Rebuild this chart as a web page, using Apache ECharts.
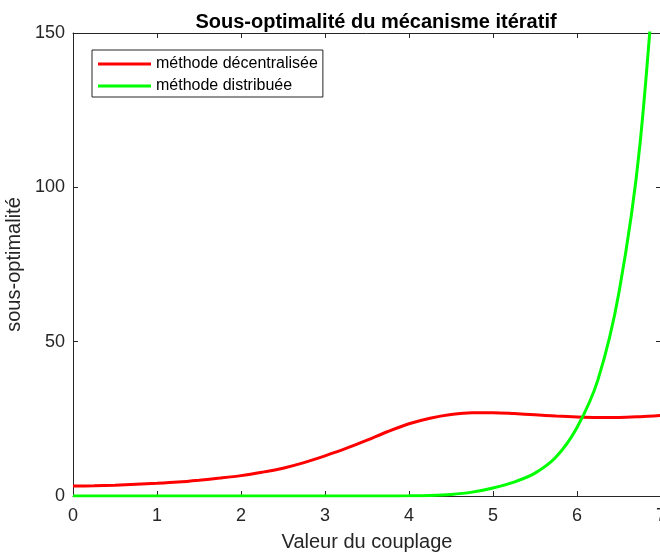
<!DOCTYPE html>
<html>
<head>
<meta charset="utf-8">
<script src="https://cdn.jsdelivr.net/npm/echarts@6/dist/echarts.min.js"></script>
<style>html,body{margin:0;padding:0;background:#fff;}#c{width:660px;height:552px;}</style>
</head>
<body>
<div id="c"></div>
<script>
var xValues = [0, 0.25, 0.5, 0.75, 1, 1.25, 1.5, 1.75, 2, 2.25, 2.5, 2.75, 3, 3.25, 3.5, 3.75, 4, 4.25, 4.5, 4.75, 5, 5.25, 5.5, 5.75, 6, 6.25, 6.5, 6.75, 7];
var redY = [3.2, 3.3, 3.5, 3.8, 4.1, 4.5, 5.1, 5.8, 6.6, 7.7, 9.0, 10.8, 13.0, 15.4, 18.1, 20.9, 23.4, 25.2, 26.4, 27.0, 27.0, 26.7, 26.3, 25.9, 25.6, 25.45, 25.45, 25.7, 26.1];
var greenY = [0, 0, 0, 0, 0, 0, 0, 0, 0, 0, 0, 0, 0, 0, 0, 0.01, 0.05, 0.17, 0.5, 1.25, 2.6, 4.5, 7.4, 12.6, 22.2, 37.7, 66, 114, 200];
var xTicks = [0, 1, 2, 3, 4, 5, 6, 7];
var yTicks = [0, 50, 100, 150];
var names = ['méthode décentralisée', 'méthode distribuée'];

function pairs(xs, ys) { return xs.map(function (x, i) { return [x, ys[i]]; }); }

var axisCol = '#262626';
var font = 'Liberation Sans, Arial, Helvetica, sans-serif';
function axisBase() {
  return {
    axisLine: { show: true, onZero: false, lineStyle: { color: axisCol, width: 1 } },
    axisTick: { show: true, inside: true, length: 5, lineStyle: { color: axisCol } },
    splitLine: { show: false }
  };
}
var chart = echarts.init(document.getElementById('c'));
chart.setOption({
  animation: false,
  title: {
    text: 'Sous-optimalité du mécanisme itératif',
    left: 371, top: 7, textAlign: 'center',
    textStyle: { fontFamily: font, fontSize: 20, fontWeight: 'bold', color: '#000' }
  },
  legend: {
    orient: 'vertical', left: 92, top: 50,
    padding: [5, 5, 2, 6],
    itemGap: 4, itemWidth: 53, itemHeight: 3,
    borderColor: axisCol, borderWidth: 1, backgroundColor: '#fff',
    icon: 'rect',
    textStyle: { fontFamily: font, fontSize: 16, color: '#000', lineHeight: 18 },
    data: names
  },
  grid: { left: 73, right: -1, top: 33, bottom: 56, containLabel: false, outerBoundsMode: 'none' },
  xAxis: [Object.assign(axisBase(), {
    type: 'value', min: 0, max: 7, interval: 1,
    name: 'Valeur du couplage', nameLocation: 'middle', nameGap: 36,
    nameTextStyle: { fontFamily: font, fontSize: 20, color: axisCol },
    axisLabel: { fontFamily: font, fontSize: 18, color: axisCol, margin: 11,
      formatter: function (v) { return xTicks.indexOf(v) >= 0 ? String(v) : ''; } }
  }), Object.assign(axisBase(), {
    type: 'value', min: 0, max: 7, interval: 1, position: 'top',
    axisLabel: { show: false }
  })],
  yAxis: [Object.assign(axisBase(), {
    type: 'value', min: 0, max: 150, interval: 50,
    name: 'sous-optimalité', nameLocation: 'middle', nameGap: 46, nameRotate: 90,
    nameTextStyle: { fontFamily: font, fontSize: 20, color: axisCol },
    axisLabel: { fontFamily: font, fontSize: 18, color: axisCol, margin: 8,
      formatter: function (v) { return yTicks.indexOf(v) >= 0 ? String(v) : ''; } }
  }), Object.assign(axisBase(), {
    type: 'value', min: 0, max: 150, interval: 50, position: 'right',
    axisLabel: { show: false }
  })],
  series: [{
    name: names[0], type: 'line', data: pairs(xValues, redY), smooth: 0.3,
    showSymbol: false, clip: true, color: '#ff0000',
    lineStyle: { color: '#ff0000', width: 3 }
  }, {
    name: names[1], type: 'line', data: pairs(xValues, greenY), smooth: 0.3,
    showSymbol: false, clip: true, color: '#00ff00',
    lineStyle: { color: '#00ff00', width: 3 }
  }]
});
</script>
</body>
</html>
